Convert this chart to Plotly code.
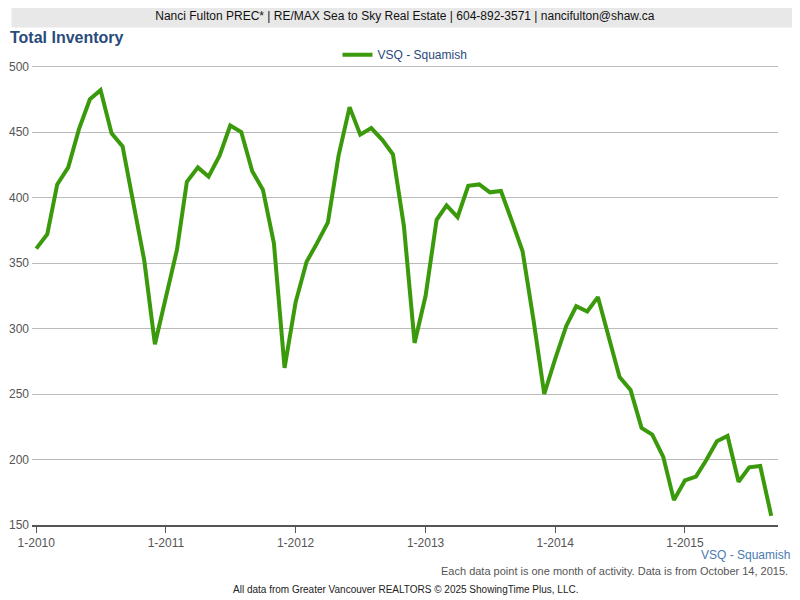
import plotly.graph_objects as go
import pandas as pd

dates = pd.date_range("2010-01-01", periods=69, freq="MS")
values = [361,372,410,423,452,475,482,449,439,395,352,288,
          323,360,412,423,416,432,455,450,420,406,365,270,
          320,351,365,381,432,469,448,453,444,433,378,289,
          325,383,394,385,409,410,404,405,382,359,306,250,
          277,302,317,313,324,292,263,253,224,219,202,169,
          184,187,199,214,218,183,194,195,157]
tick_vals = pd.date_range("2010-01-01", periods=6, freq="12MS")
tick_text = ["1-2010","1-2011","1-2012","1-2013","1-2014","1-2015"]

fig = go.Figure(go.Scatter(x=dates, y=values, mode="lines", name="VSQ - Squamish",
                           line=dict(color="#3a9a0c", width=4)))
fig.update_layout(
    width=784, height=592, plot_bgcolor="white", paper_bgcolor="white",
    margin=dict(l=24, r=14, t=52, b=75),
    font=dict(family="Liberation Sans, Arial", size=12, color="#555"),
    showlegend=True,
    legend=dict(orientation="h", x=0.5, xanchor="center", y=0.98, yanchor="bottom",
                bgcolor="rgba(0,0,0,0)", font=dict(color="#2a4a7a", size=12)),
    xaxis=dict(tickvals=tick_vals, ticktext=tick_text, showgrid=False, ticks="outside",
               ticklen=6, tickcolor="#555", showline=True, linecolor="#555", linewidth=2,
               automargin=False,
               range=[pd.Timestamp("2009-12-20"), pd.Timestamp("2015-09-20")]),
    yaxis=dict(range=[150, 505], dtick=50, gridcolor="#bbb", zeroline=False, automargin=False,
               ticklabelstandoff=2),
    annotations=[
        dict(text="<b>Total Inventory</b>", x=0, y=1, xref="paper", yref="paper", xanchor="left", yanchor="top",
             xshift=-24, yshift=33, showarrow=False, font=dict(size=16, color="#2a4a7a", family="Liberation Sans, Arial")),
        dict(text="VSQ - Squamish", x=1, y=0, xref="paper", yref="paper", xanchor="right", yanchor="top",
             xshift=14, yshift=-21, showarrow=False, font=dict(size=12, color="#4a7ab0")),
        dict(text="Each data point is one month of activity. Data is from October 14, 2015.", x=1, y=0,
             xref="paper", yref="paper", xanchor="right", yanchor="top", xshift=12, yshift=-38,
             showarrow=False, font=dict(size=11, color="#555")),
        dict(text="All data from Greater Vancouver REALTORS © 2025 ShowingTime Plus, LLC.", x=0.5, y=0,
             xref="paper", yref="paper", xanchor="center", yanchor="top", yshift=-57,
             showarrow=False, font=dict(size=10, color="#222")),
    ],
)
fig.add_annotation(text="Nanci Fulton PREC* | RE/MAX Sea to Sky Real Estate | 604-892-3571 | nancifulton@shaw.ca",
                   x=0.5, y=1, xref="paper", yref="paper", xanchor="center", yanchor="bottom", yshift=32,
                   showarrow=False, font=dict(size=12, color="#111"), bgcolor="#e8e8e8", width=784, height=20)
fig.write_html("out.html")
